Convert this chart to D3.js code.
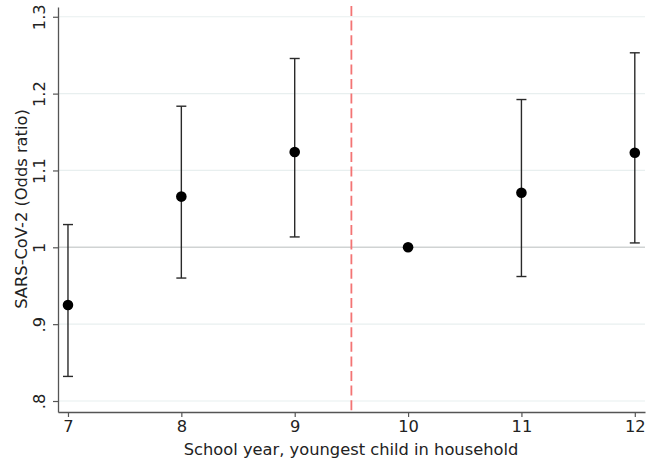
<!DOCTYPE html>
<html>
<head>
<meta charset="utf-8">
<script src="https://cdn.jsdelivr.net/npm/d3@7"></script>
<style>
  html, body { margin: 0; padding: 0; background: #fff; }
  svg text { font-family: "DejaVu Sans", sans-serif; fill: #222; }
</style>
</head>
<body>
<svg id="chart" width="655" height="464"></svg>
<script>
// School year of youngest child and estimated odds ratios with 95% CIs
const schoolYears = [7, 8, 9, 10, 11, 12];
const oddsRatio   = [0.925, 1.066, 1.124, 1.000, 1.071, 1.123];
const ciLower     = [0.832, 0.960, 1.0135, null, 0.962, 1.0057];
const ciUpper     = [1.0296, 1.1836, 1.2457, null, 1.1923, 1.2531];
const yTicks      = [0.8, 0.9, 1.0, 1.1, 1.2, 1.3];
const yTickLabels = [".8", ".9", "1", "1.1", "1.2", "1.3"];
const cutoffYear  = 9.5;

const svg = d3.select("#chart");
const plotLeft = 58, plotRight = 645, plotTop = 7, plotBottom = 412;
const fontSize = "16.3px";

const x = d3.scaleLinear().domain([6.912, 12.09]).range([plotLeft, plotRight]);
const y = d3.scaleLinear().domain([0.7857, 1.3127]).range([plotBottom, plotTop]);

// gridlines
svg.append("g").selectAll("line").data(yTicks).join("line")
  .attr("x1", plotLeft).attr("x2", plotRight)
  .attr("y1", d => y(d)).attr("y2", d => y(d))
  .attr("stroke", d => d === 1 ? "#d0d3d3" : "#e8efef")
  .attr("stroke-width", d => d === 1 ? 1.4 : 1.2);

// reference cutoff
svg.append("line")
  .attr("x1", x(cutoffYear)).attr("x2", x(cutoffYear))
  .attr("y1", plotTop - 1).attr("y2", plotBottom)
  .attr("stroke", "#f37474").attr("stroke-width", 1.8)
  .attr("stroke-dasharray", "10,4.6");

// axes
const yAxis = d3.axisLeft(y).tickValues(yTicks)
  .tickFormat((d, i) => yTickLabels[i]).tickSize(5).tickSizeOuter(0);
const gy = svg.append("g").attr("transform", `translate(${plotLeft},0)`).call(yAxis);
gy.select(".domain").attr("stroke", "#555").attr("stroke-width", 1.3);
gy.selectAll(".tick line").attr("stroke", "#555").attr("stroke-width", 1.2);
gy.selectAll(".tick text")
  .style("font-size", fontSize).attr("fill", "#222")
  .attr("transform", "rotate(-90, -9, 0)")
  .attr("x", -9).attr("dy", "-0.25em")
  .attr("text-anchor", "middle");

const xAxis = d3.axisBottom(x).tickValues(schoolYears)
  .tickFormat(d3.format("d")).tickSize(5).tickSizeOuter(0);
const gx = svg.append("g").attr("transform", `translate(0,${plotBottom})`).call(xAxis);
gx.select(".domain").attr("stroke", "#555").attr("stroke-width", 1.3);
gx.selectAll(".tick line").attr("stroke", "#555").attr("stroke-width", 1.2);
gx.selectAll(".tick text").style("font-size", fontSize).attr("fill", "#222").attr("dy", "0.71em");

// axis titles
svg.append("text")
  .attr("x", 351).attr("y", 455)
  .attr("text-anchor", "middle").style("font-size", fontSize)
  .text("School year, youngest child in household");
svg.append("text")
  .attr("transform", "translate(27, 209) rotate(-90)")
  .attr("text-anchor", "middle").style("font-size", fontSize)
  .text("SARS-CoV-2 (Odds ratio)");

// confidence intervals
const ci = schoolYears.map((s, i) => ({ s, lo: ciLower[i], hi: ciUpper[i] }))
  .filter(d => d.lo !== null);
const g = svg.append("g").attr("stroke", "#2a2a2a").attr("stroke-width", 1.4);
g.selectAll("line.v").data(ci).join("line").attr("class", "v")
  .attr("x1", d => x(d.s)).attr("x2", d => x(d.s))
  .attr("y1", d => y(d.lo)).attr("y2", d => y(d.hi));
g.selectAll("line.lo").data(ci).join("line").attr("class", "lo")
  .attr("x1", d => x(d.s) - 5).attr("x2", d => x(d.s) + 5)
  .attr("y1", d => y(d.lo)).attr("y2", d => y(d.lo));
g.selectAll("line.hi").data(ci).join("line").attr("class", "hi")
  .attr("x1", d => x(d.s) - 5).attr("x2", d => x(d.s) + 5)
  .attr("y1", d => y(d.hi)).attr("y2", d => y(d.hi));

// point estimates
svg.append("g").selectAll("circle").data(schoolYears).join("circle")
  .attr("cx", d => x(d)).attr("cy", (d, i) => y(oddsRatio[i]))
  .attr("r", 5.3).attr("fill", "#000");
</script>
</body>
</html>
